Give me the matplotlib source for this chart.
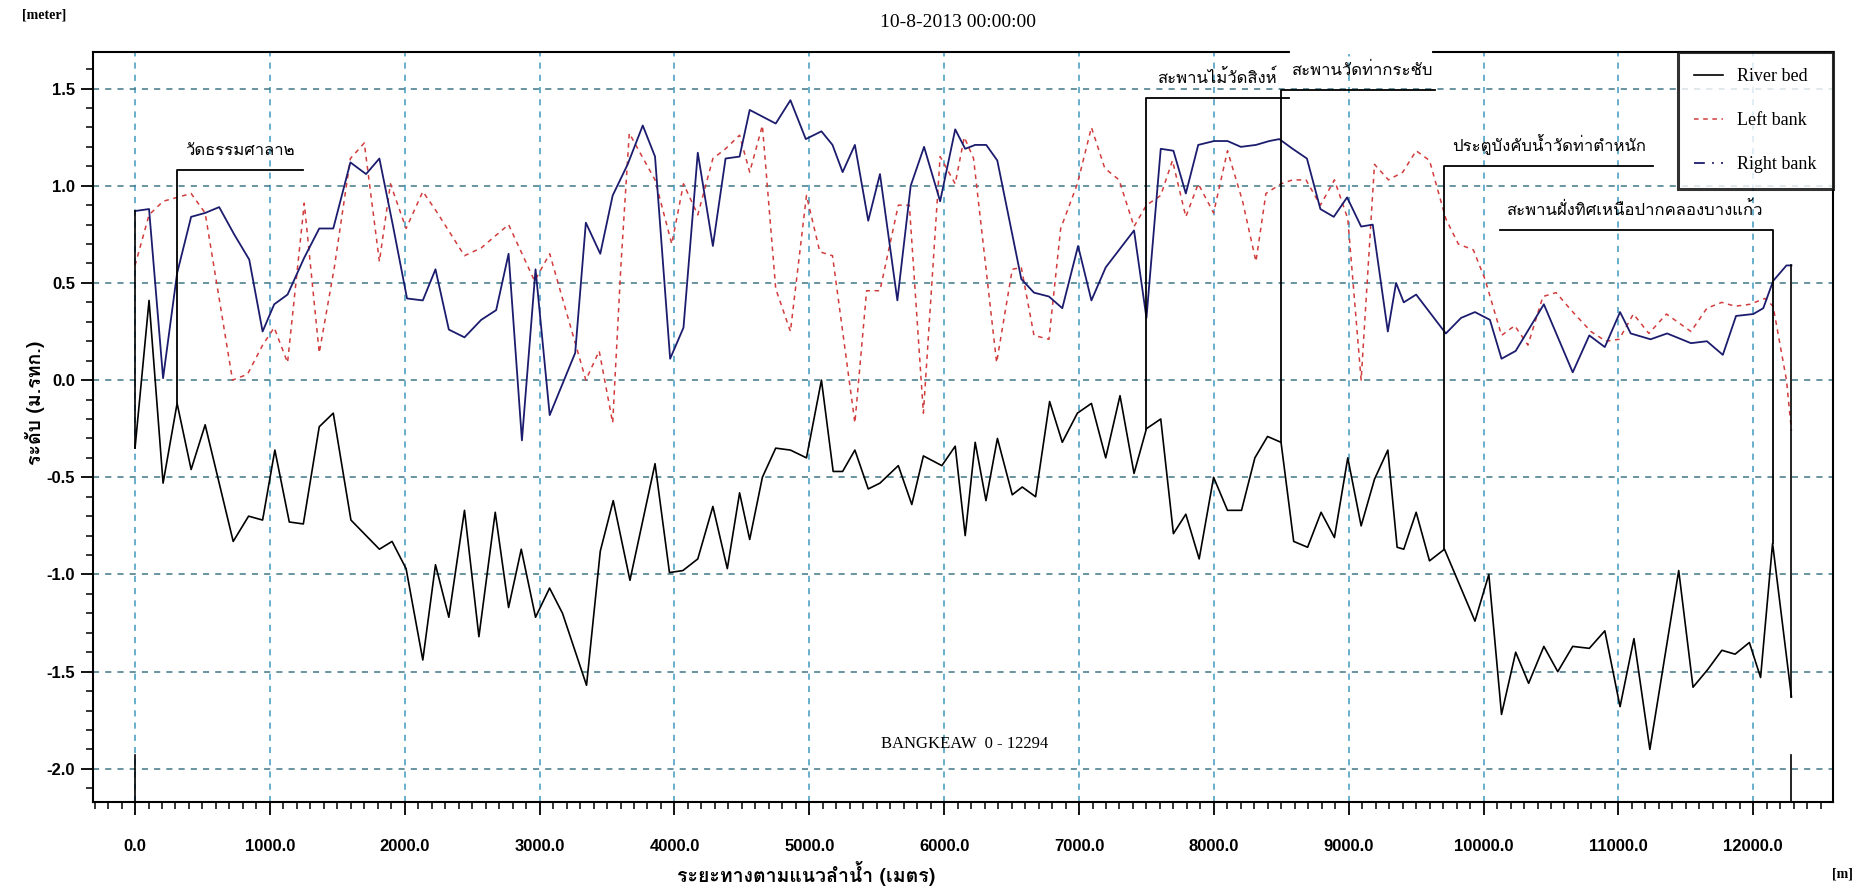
import numpy as np
import matplotlib.pyplot as plt
from matplotlib.lines import Line2D
from matplotlib.ticker import MultipleLocator, FormatStrFormatter

# River bed (black)
bed_x = [0, 104, 208, 312, 416, 520, 728, 842, 946, 1037, 1144, 1248, 1366, 1470, 1601, 1812, 1906,
         2010, 2134, 2228, 2327, 2443, 2550, 2671, 2770, 2864, 2970, 3074, 3170, 3348, 3450, 3546,
         3670, 3856, 3963, 4062, 4173, 4285, 4392, 4483, 4558, 4652, 4751, 4860, 4979, 5090, 5177,
         5247, 5338, 5437, 5524, 5660, 5760, 5846, 5983, 6082, 6156, 6230, 6310, 6395, 6505, 6579,
         6678, 6782, 6876, 6988, 7092, 7198, 7304, 7408, 7500, 7606, 7700, 7792, 7891, 7998, 8101,
         8205, 8304, 8398, 8498, 8592, 8695, 8795, 8894, 8993, 9092, 9191, 9290, 9359, 9408, 9500,
         9599, 9710, 9936, 10039, 10133, 10238, 10334, 10447, 10550, 10661, 10784, 10899, 11012,
         11115, 11233, 11447, 11553, 11661, 11767, 11865, 11971, 12054, 12143, 12283]
bed_y = [-0.35, 0.41, -0.53, -0.12, -0.46, -0.23, -0.83, -0.70, -0.72, -0.36, -0.73, -0.74, -0.24,
         -0.17, -0.72, -0.87, -0.83, -0.97, -1.44, -0.95, -1.22, -0.67, -1.32, -0.68, -1.17, -0.87,
         -1.22, -1.07, -1.20, -1.57, -0.88, -0.62, -1.03, -0.43, -0.99, -0.98, -0.92, -0.65, -0.97,
         -0.58, -0.82, -0.50, -0.35, -0.36, -0.40, 0.00, -0.47, -0.47, -0.36, -0.56, -0.53, -0.44,
         -0.64, -0.39, -0.44, -0.34, -0.80, -0.32, -0.62, -0.30, -0.59, -0.55, -0.60, -0.11, -0.32,
         -0.17, -0.12, -0.40, -0.08, -0.48, -0.25, -0.20, -0.79, -0.69, -0.92, -0.50, -0.67, -0.67,
         -0.40, -0.29, -0.32, -0.83, -0.86, -0.68, -0.81, -0.40, -0.75, -0.51, -0.36, -0.86, -0.87,
         -0.68, -0.93, -0.87, -1.24, -1.00, -1.72, -1.40, -1.56, -1.37, -1.50, -1.37, -1.38, -1.29,
         -1.68, -1.33, -1.90, -0.98, -1.58, -1.49, -1.39, -1.41, -1.35, -1.53, -0.84, -1.63]

# Left bank (red dashed)
left_x = [0, 104, 208, 312, 416, 520, 723, 834, 946, 1032, 1131, 1255, 1366, 1478, 1597, 1700, 1812,
          1894, 2010, 2134, 2233, 2443, 2567, 2770, 2963, 3075, 3343, 3442, 3542, 3603, 3665, 3856,
          3980, 4067, 4173, 4285, 4379, 4483, 4558, 4652, 4751, 4860, 4979, 5078, 5172, 5338, 5425,
          5524, 5660, 5742, 5846, 5970, 6082, 6149, 6218, 6389, 6505, 6572, 6666, 6777, 6864, 6988,
          7092, 7191, 7297, 7408, 7500, 7606, 7693, 7792, 7884, 7998, 8101, 8213, 8312, 8386, 8498,
          8584, 8683, 8790, 8894, 8993, 9092, 9191, 9295, 9401, 9500, 9599, 9720, 9813, 9924, 10010,
          10133, 10231, 10329, 10440, 10538, 10649, 10796, 10907, 11005, 11111, 11226, 11356, 11538,
          11656, 11767, 11865, 11975, 12086, 12147, 12246, 12283]
left_y = [0.59, 0.85, 0.92, 0.94, 0.96, 0.86, 0.00, 0.03, 0.18, 0.27, 0.09, 0.91, 0.14, 0.58, 1.14,
          1.22, 0.61, 1.01, 0.78, 0.97, 0.87, 0.64, 0.68, 0.80, 0.51, 0.65, 0.00, 0.15, -0.22, 0.59,
          1.27, 1.03, 0.70, 1.01, 0.85, 1.14, 1.19, 1.26, 1.07, 1.31, 0.47, 0.25, 0.95, 0.66, 0.64,
          -0.22, 0.46, 0.46, 0.90, 0.90, -0.17, 1.15, 1.01, 1.25, 1.14, 0.09, 0.57, 0.58, 0.23, 0.21,
          0.78, 1.01, 1.30, 1.09, 1.03, 0.79, 0.90, 0.95, 1.13, 0.84, 1.01, 0.86, 1.18, 0.92, 0.61,
          0.96, 1.01, 1.03, 1.03, 0.90, 1.03, 0.83, 0.00, 1.11, 1.03, 1.07, 1.18, 1.13, 0.83, 0.70,
          0.67, 0.52, 0.23, 0.28, 0.18, 0.43, 0.45, 0.36, 0.25, 0.20, 0.21, 0.34, 0.24, 0.34, 0.25,
          0.37, 0.40, 0.38, 0.39, 0.42, 0.38, 0.00, -0.26]

# Right bank (navy)
right_x = [0, 104, 208, 312, 416, 520, 624, 735, 847, 946, 1032, 1131, 1255, 1366, 1470, 1597, 1713,
           1812, 1911, 2017, 2134, 2228, 2327, 2443, 2567, 2678, 2770, 2869, 2970, 3075, 3264, 3343,
           3450, 3542, 3653, 3765, 3856, 3968, 4067, 4173, 4285, 4379, 4483, 4558, 4751, 4860, 4974,
           5090, 5172, 5247, 5338, 5437, 5524, 5653, 5752, 5851, 5970, 6082, 6156, 6230, 6312, 6394,
           6572, 6666, 6777, 6876, 6993, 7092, 7198, 7408, 7500, 7606, 7700, 7792, 7884, 8002, 8101,
           8200, 8312, 8411, 8485, 8584, 8690, 8790, 8889, 8988, 9092, 9178, 9290, 9351, 9408, 9500,
           9720, 9833, 9936, 10047, 10133, 10238, 10447, 10661, 10784, 10899, 11012, 11091, 11238,
           11361, 11538, 11656, 11774, 11872, 12000, 12074, 12147, 12246, 12283]
right_y = [0.87, 0.88, 0.01, 0.55, 0.84, 0.86, 0.89, 0.75, 0.62, 0.25, 0.39, 0.44, 0.63, 0.78, 0.78,
           1.12, 1.06, 1.14, 0.80, 0.42, 0.41, 0.57, 0.26, 0.22, 0.31, 0.36, 0.65, -0.31, 0.57, -0.18,
           0.14, 0.81, 0.65, 0.95, 1.11, 1.31, 1.15, 0.11, 0.27, 1.17, 0.69, 1.14, 1.15, 1.39, 1.32,
           1.44, 1.24, 1.28, 1.21, 1.07, 1.21, 0.82, 1.06, 0.41, 1.00, 1.20, 0.92, 1.29, 1.19, 1.21,
           1.21, 1.13, 0.52, 0.45, 0.43, 0.37, 0.69, 0.41, 0.58, 0.77, 0.32, 1.19, 1.18, 0.96, 1.21,
           1.23, 1.23, 1.20, 1.21, 1.23, 1.24, 1.19, 1.14, 0.88, 0.84, 0.94, 0.79, 0.80, 0.25, 0.50,
           0.40, 0.44, 0.24, 0.32, 0.35, 0.31, 0.11, 0.15, 0.39, 0.04, 0.23, 0.17, 0.35, 0.24, 0.21,
           0.24, 0.19, 0.20, 0.13, 0.33, 0.34, 0.37, 0.51, 0.59, 0.59]

# landmark labels: station, bracket top, end of the bracket line, label centre, name
mark_x = [312, 7500, 8498, 9710, 12143]
mark_top = [1.08, 1.45, 1.49, 1.10, 0.77]
mark_end = [1243, 8560, 9642, 11255, 10120]
mark_text_x = [775, 8020, 9100, 10483, 11118]
mark_names = ['วัดธรรมศาลา๒', 'สะพานไม้วัดสิงห์', 'สะพานวัดท่ากระชับ',
              'ประตูบังคับน้ำวัดท่าตำหนัก', 'สะพานฝั่งทิศเหนือปากคลองบางแก้ว']

thai = ['Loma', 'DejaVu Sans']
serif = 'Liberation Serif'
bold_sans = 'Liberation Sans'

fig = plt.figure(figsize=(18.57, 8.90), dpi=100)
ax = fig.add_axes([0.0502, 0.099, 0.9368, 0.843])

ax.plot(bed_x, bed_y, color='black', lw=1.2)
ax.plot(left_x, left_y, color='#d23c3c', lw=1.1, ls=(0, (3, 3)))
ax.plot(right_x, right_y, color='#1c1c6e', lw=1.3)
# closing lines at both ends of the section
ax.plot([bed_x[0], bed_x[0]], [bed_y[0], right_y[0]], color='black', lw=1.2)
ax.plot([bed_x[-1], bed_x[-1]], [bed_y[-1], right_y[-1]], color='black', lw=1.2)
ax.plot([bed_x[0], bed_x[0]], [-1.93, -2.2], color='black', lw=1.2)
ax.plot([bed_x[-1], bed_x[-1]], [-1.93, -2.2], color='black', lw=1.2)

bed_at = dict(zip(bed_x, bed_y))
for sx, top, end, tx, name in zip(mark_x, mark_top, mark_end, mark_text_x, mark_names):
    ax.plot([sx, sx, end], [bed_at[sx], top, top], color='black', lw=1.3)
    ax.text(tx, top + 0.06, name, ha='center', va='bottom', fontsize=12,
            family=thai, zorder=5)
# the label box of the second bridge hides the top frame there
ax.plot([8578, 9606], [1.69, 1.69], color='white', lw=3, clip_on=False, zorder=4)

ax.text(6150, -1.87, 'BANGKEAW  0 - 12294', ha='center', va='center', fontsize=12, family=serif)

ax.set_xlim(-310, 12590)
ax.set_ylim(-2.17, 1.69)
ax.xaxis.set_major_locator(MultipleLocator(1000))
ax.xaxis.set_minor_locator(MultipleLocator(100))
ax.yaxis.set_major_locator(MultipleLocator(0.5))
ax.yaxis.set_minor_locator(MultipleLocator(0.1))
ax.xaxis.set_major_formatter(FormatStrFormatter('%.1f'))
ax.yaxis.set_major_formatter(FormatStrFormatter('%.1f'))
ax.tick_params(which='major', length=9, width=1.3, direction='out')
ax.tick_params(which='minor', length=5, width=1.1, direction='out')
ax.tick_params(axis='x', which='major', pad=18)
ax.tick_params(axis='y', which='major', pad=4)
for lab in ax.get_xticklabels() + ax.get_yticklabels():
    lab.set_family(bold_sans)
    lab.set_fontweight('bold')
    lab.set_fontsize(12)
for sp in ax.spines.values():
    sp.set_linewidth(1.5)

ax.grid(axis='y', color='#3e7686', ls=(0, (4, 4)), lw=1.1)
ax.grid(axis='x', color='#3f98bd', ls=(0, (4, 4)), lw=1.1)
ax.set_axisbelow(True)

handles = [Line2D([], [], color='black', lw=1.2),
           Line2D([], [], color='#d23c3c', lw=1.1, ls=(0, (3, 3))),
           Line2D([], [], color='#1c1c6e', lw=1.3, ls=(0, (6, 4, 1, 4)))]
leg = ax.legend(handles, ['River bed', 'Left bank', 'Right bank'], loc='upper right',
                prop={'family': serif, 'size': 13}, frameon=True, fancybox=False,
                borderaxespad=0, handlelength=1.6, labelspacing=1.5, borderpad=0.9)
leg.get_frame().set_edgecolor('black')
leg.get_frame().set_linewidth(2.2)
leg.set_zorder(6)

fig.text(0.024, 0.983, '[meter]', fontsize=10, fontweight='bold', family=serif, ha='center', va='center')
fig.text(0.516, 0.975, '10-8-2013 00:00:00', fontsize=14, family=serif, ha='center', va='center')
fig.text(0.019, 0.547, 'ระดับ (ม.รทก.)', rotation=90, fontsize=14, fontweight='bold',
         family=thai, ha='center', va='center')
fig.text(0.434, 0.018, 'ระยะทางตามแนวลำน้ำ (เมตร)', fontsize=14, fontweight='bold',
         family=thai, ha='center', va='center')
fig.text(0.992, 0.018, '[m]', fontsize=10, fontweight='bold', family=serif, ha='center', va='center')

fig.savefig('out.png', dpi=100)
